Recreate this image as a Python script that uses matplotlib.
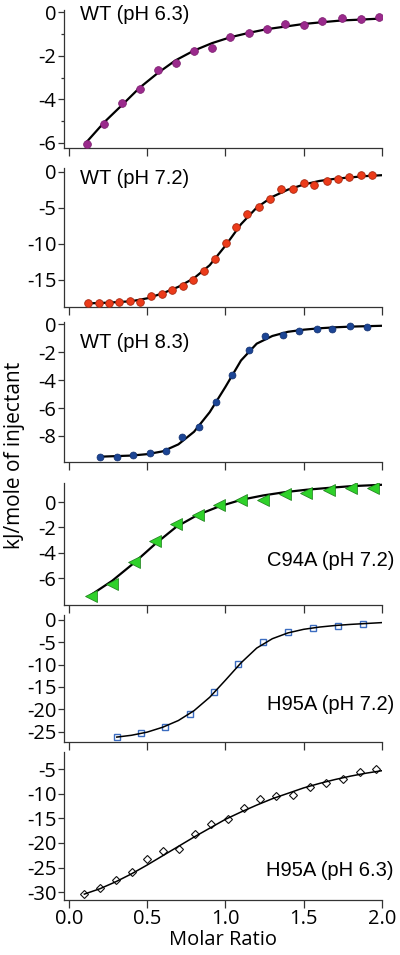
import matplotlib
matplotlib.use("Agg")
import matplotlib.pyplot as plt
from matplotlib.ticker import MultipleLocator

# ---------------- data ----------------
# WT pH 6.3
wt63_x = [0.115, 0.228, 0.339, 0.452, 0.569, 0.682, 0.800, 0.915, 1.032, 1.149,
          1.264, 1.382, 1.501, 1.618, 1.742, 1.864, 1.983]
wt63_y = [-6.03, -5.15, -4.17, -3.51, -2.67, -2.32, -1.79, -1.63, -1.15, -0.96,
          -0.79, -0.56, -0.61, -0.41, -0.26, -0.31, -0.23]
wt63_fit_x = [0.115, 0.228, 0.339, 0.452, 0.569, 0.682, 0.800, 0.915, 1.032, 1.149,
              1.264, 1.382, 1.501, 1.618, 1.742, 1.864, 2.0]
wt63_fit_y = [-5.95, -5.04, -4.27, -3.47, -2.79, -2.21, -1.76, -1.42, -1.15, -0.95,
              -0.78, -0.66, -0.54, -0.46, -0.38, -0.34, -0.29]

# WT pH 7.2
wt72_x = [0.122, 0.192, 0.256, 0.324, 0.392, 0.456, 0.527, 0.595, 0.661, 0.727,
          0.793, 0.866, 0.932, 1.002, 1.070, 1.141, 1.215, 1.284, 1.358, 1.429,
          1.501, 1.569, 1.646, 1.716, 1.789, 1.864, 1.938]
wt72_y = [-18.29, -18.29, -18.19, -18.15, -17.96, -18.06, -17.27, -17.04, -16.44, -15.88,
          -15.05, -13.75, -12.13, -9.86, -7.64, -5.93, -4.86, -3.84, -2.45, -2.45,
          -1.53, -1.85, -1.30, -1.02, -0.79, -0.51, -0.46]
wt72_fit_x = [0.122, 0.25, 0.4, 0.5, 0.6, 0.7, 0.8, 0.9, 1.0, 1.1, 1.2, 1.3,
              1.4, 1.5, 1.6, 1.7, 1.8, 1.9, 2.0]
wt72_fit_y = [-18.3, -18.2, -18.0, -17.6, -16.9, -16.0, -14.8, -13.0, -10.3, -7.3,
              -5.0, -3.5, -2.5, -1.8, -1.3, -1.0, -0.8, -0.62, -0.5]

# WT pH 8.3
wt83_x = [0.200, 0.307, 0.409, 0.516, 0.618, 0.725, 0.829, 0.938, 1.043, 1.149,
          1.256, 1.365, 1.471, 1.582, 1.684, 1.795, 1.902]
wt83_y = [-9.48, -9.48, -9.36, -9.24, -9.05, -8.05, -7.33, -5.57, -3.62, -1.86,
          -0.86, -0.79, -0.48, -0.36, -0.36, -0.17, -0.19]
wt83_fit_x = [0.2, 0.4, 0.5, 0.6, 0.7, 0.8, 0.9, 1.0, 1.1, 1.2, 1.3, 1.4, 1.5,
              1.6, 1.7, 1.8, 1.9, 2.0]
wt83_fit_y = [-9.48, -9.4, -9.3, -9.1, -8.6, -7.7, -6.3, -4.5, -2.6, -1.4, -0.85,
              -0.55, -0.4, -0.3, -0.23, -0.18, -0.15, -0.12]

# C94A pH 7.2
c94_x = [0.143, 0.277, 0.416, 0.552, 0.687, 0.825, 0.959, 1.102, 1.241, 1.380,
         1.518, 1.663, 1.802, 1.945]
c94_y = [-7.39, -6.45, -4.75, -3.05, -1.75, -0.99, -0.26, 0.13, 0.13, 0.60,
         0.73, 0.97, 1.12, 1.10]
c94_fit_x = [0.143, 0.277, 0.416, 0.552, 0.687, 0.825, 0.959, 1.102, 1.241, 1.380,
             1.518, 1.663, 1.802, 1.945, 2.0]
c94_fit_y = [-7.3, -6.2, -4.8, -3.3, -1.95, -1.0, -0.35, 0.18, 0.52, 0.78,
             0.97, 1.12, 1.25, 1.33, 1.36]

# H95A pH 7.2
h72_x = [0.307, 0.463, 0.616, 0.772, 0.928, 1.083, 1.241, 1.397, 1.557, 1.716, 1.876]
h72_y = [-26.17, -25.28, -24.01, -21.04, -16.06, -9.81, -4.83, -2.60, -1.86, -1.26, -0.97]
h72_fit_x = [0.307, 0.4, 0.5, 0.6, 0.7, 0.8, 0.9, 1.0, 1.1, 1.2, 1.3, 1.4, 1.5,
             1.6, 1.7, 1.8, 1.9, 2.0]
h72_fit_y = [-26.2, -25.8, -25.1, -24.0, -22.5, -20.3, -17.3, -13.5, -9.6, -6.3,
             -4.2, -2.9, -2.1, -1.6, -1.25, -1.0, -0.8, -0.6]

# H95A pH 6.3
h63_x = [0.100, 0.202, 0.302, 0.402, 0.500, 0.602, 0.704, 0.809, 0.909, 1.015,
         1.117, 1.223, 1.326, 1.432, 1.538, 1.645, 1.751, 1.857, 1.964]
h63_y = [-30.48, -29.18, -27.62, -25.91, -23.19, -21.69, -21.21, -18.21, -16.17, -15.22,
         -12.83, -11.06, -10.38, -10.25, -8.68, -7.72, -6.98, -5.48, -5.00]
h63_fit_x = [0.1, 0.2, 0.3, 0.4, 0.5, 0.6, 0.7, 0.8, 0.9, 1.0, 1.1, 1.2, 1.3,
             1.4, 1.5, 1.6, 1.7, 1.8, 1.9, 2.0]
h63_fit_y = [-30.4, -29.3, -27.9, -26.3, -24.5, -22.6, -20.7, -18.8, -17.0, -15.2,
             -13.7, -12.3, -11.0, -9.9, -8.8, -7.9, -7.1, -6.4, -5.8, -5.3]

labels = ["WT (pH 6.3)", "WT (pH 7.2)", "WT (pH 8.3)",
          "C94A (pH 7.2)", "H95A (pH 7.2)", "H95A (pH 6.3)"]
x_ticks = [0.0, 0.5, 1.0, 1.5, 2.0]
x_ticklabels = ["0.0", "0.5", "1.0", "1.5", "2.0"]

# ---------------- figure ----------------
W, H = 400, 955
fig = plt.figure(figsize=(W / 100, H / 100), dpi=100)
tick_font = "Open Sans"
lab_font = "Liberation Sans"
TICK_FS = 14.5

# panel boxes in pixels: (top, bottom)
boxes = [(10, 148), (168, 307), (322, 462), (483, 605), (615, 742), (752, 900)]
ylims = [(-6.23, 0.1), (-18.8, 0.5), (-9.86, 0.15), (-8.1, 1.5), (-27.3, 1.1), (-31.6, -1.5)]
yticks = [[0, -2, -4, -6], [0, -5, -10, -15], [0, -2, -4, -6, -8],
          [0, -2, -4, -6], [0, -5, -10, -15, -20, -25], [-5, -10, -15, -20, -25, -30]]

series = [
    (wt63_x, wt63_y, wt63_fit_x, wt63_fit_y,
     dict(marker='o', ms=5.6, mfc='#9a2a8c', mec='#7a1a6c', mew=0.5, ls='none'), 1.6),
    (wt72_x, wt72_y, wt72_fit_x, wt72_fit_y,
     dict(marker='o', ms=5.5, mfc='#ec3b1a', mec='#a82810', mew=0.6, ls='none'), 1.6),
    (wt83_x, wt83_y, wt83_fit_x, wt83_fit_y,
     dict(marker='o', ms=5.0, mfc='#1c4595', mec='#12306e', mew=0.5, ls='none'), 1.6),
    (c94_x, c94_y, c94_fit_x, c94_fit_y,
     dict(marker='<', ms=8.0, mfc='#2fd12a', mec='#1a7a18', mew=0.5, ls='none'), 1.6),
    (h72_x, h72_y, h72_fit_x, h72_fit_y,
     dict(marker='s', ms=4.8, mfc='white', mec='#3b6cc0', mew=1.0, ls='none'), 1.1),
    (h63_x, h63_y, h63_fit_x, h63_fit_y,
     dict(marker='D', ms=4.4, mfc='white', mec='#111111', mew=0.8, ls='none'), 1.1),
]

left_px, right_px = 64, 382
axes = []
for i, ((top, bot), (mx, my, fx, fy, mkw, lw)) in enumerate(zip(boxes, series)):
    ax = fig.add_axes([left_px / W, 1 - bot / H, (right_px - left_px) / W, (bot - top) / H])
    axes.append(ax)
    if i < 4:
        ax.plot(fx, fy, color='black', lw=lw, zorder=2)
        ax.plot(mx, my, zorder=3, **mkw)
    else:
        ax.plot(mx, my, zorder=2, **mkw)
        ax.plot(fx, fy, color='black', lw=lw, zorder=3)
    ax.set_xlim(-0.03, 2.0)
    ax.set_ylim(*ylims[i])
    ax.set_yticks(yticks[i])
    ax.set_yticklabels([str(t) for t in yticks[i]], fontfamily=tick_font, fontsize=TICK_FS)
    ax.set_xticks(x_ticks)
    if i == 5:
        ax.set_xticklabels(x_ticklabels, fontfamily=tick_font, fontsize=TICK_FS)
        ax.set_xlabel("Molar Ratio", fontfamily=tick_font, fontsize=TICK_FS, labelpad=1)
    else:
        ax.set_xticklabels([])
    for s in ['top', 'right']:
        ax.spines[s].set_visible(False)
    for s in ['left', 'bottom']:
        ax.spines[s].set_color('#333333')
        ax.spines[s].set_linewidth(0.9)
    ax.tick_params(axis='y', direction='out', length=4, width=0.9, color='#333333', pad=1.5)
    ax.tick_params(axis='x', direction='out', length=5.5, width=0.9, color='#333333', pad=1.0)
    ax.patch.set_alpha(0)

axes[0].yaxis.set_minor_locator(MultipleLocator(1))
axes[0].tick_params(axis='y', which='minor', direction='out', length=2.5, width=0.9, color='#333333')

# panel labels (pixel positions)
label_pos = [(80, 15, 'left'), (80, 179, 'left'), (80, 343, 'left'),
             (394, 560, 'right'), (394, 705, 'right'), (394, 870, 'right')]
for text, (px, py, ha) in zip(labels, label_pos):
    fig.text(px / W, 1 - py / H, text, ha=ha, va='center', fontfamily=lab_font, fontsize=14.5)

fig.text(15 / W, 1 - 455 / H, "kJ/mole of injectant", rotation=90, ha='center', va='center',
         fontfamily=tick_font, fontsize=15)

fig.savefig("out.png", dpi=100)
